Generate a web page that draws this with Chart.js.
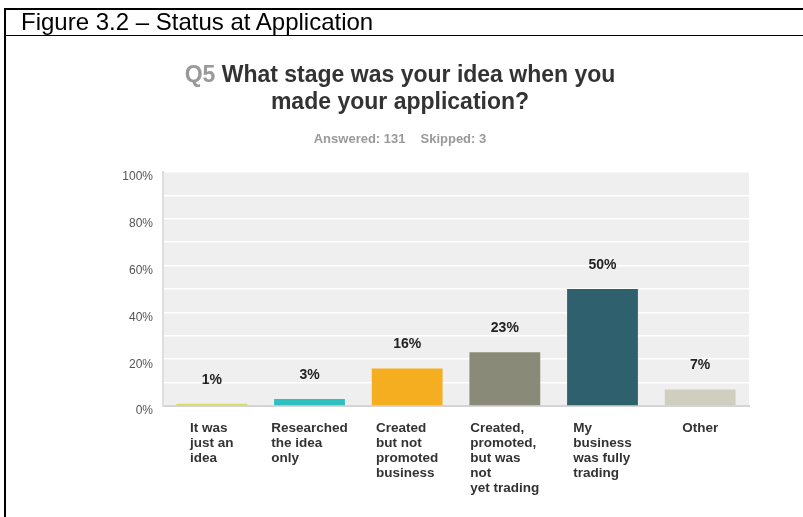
<!DOCTYPE html>
<html>
<head>
<meta charset="utf-8">
<script src="https://cdn.jsdelivr.net/npm/chart.js@4.4.1/dist/chart.umd.min.js"></script>
<style>
  html, body { margin: 0; padding: 0; background: #fff; }
  #page { position: relative; width: 803px; height: 517px; overflow: hidden; font-family: "Liberation Sans", Arial, sans-serif; }
  #chartBox { position: absolute; left: 0; top: 0; width: 803px; height: 517px; }
  .rule { position: absolute; background: #000; }
  #caption { position: absolute; left: 21px; top: 8px; font-size: 24px; line-height: 27px; color: #000; white-space: nowrap; }
  #question { position: absolute; left: 0; top: 61px; width: 800px; text-align: center; font-size: 23px; font-weight: bold; line-height: 27px; color: #333; }
  #question .qnum { color: #999; }
  #answered { position: absolute; left: 0; top: 131px; width: 800px; text-align: center; font-size: 13px; font-weight: bold; color: #999; }
  #answered span + span { margin-left: 15px; }
</style>
</head>
<body>
<div id="page">
  <div id="chartBox"><canvas id="myChart" width="803" height="517"></canvas></div>
  <div class="rule" style="left:4px; top:8px; width:799px; height:2px;"></div>
  <div class="rule" style="left:4px; top:8px; width:2px; height:509px;"></div>
  <div class="rule" style="left:4px; top:35px; width:799px; height:1px;"></div>
  <div id="caption">Figure 3.2 – Status at Application</div>
  <div id="question"><span class="qnum">Q5</span> What stage was your idea when you<br>made your application?</div>
  <div id="answered"><span>Answered: 131</span><span>Skipped: 3</span></div>
</div>
<script>
// answer options, one array of lines per bar
var categories = [
    ['It was', 'just an', 'idea'],
    ['Researched', 'the idea', 'only'],
    ['Created', 'but not', 'promoted', 'business'],
    ['Created,', 'promoted,', 'but was', 'not', 'yet trading'],
    ['My', 'business', 'was fully', 'trading'],
    ['Other']
];
var percentages = [1, 3, 16, 23, 50, 7];
var barColors = ['#d3da66', '#2ebfc1', '#f6ae21', '#8a8a78', '#2e606d', '#d0cfbf'];
var yTickLabels = ['0%', '20%', '40%', '60%', '80%', '100%'];

// grey plot background behind the grid
var plotBackground = {
    id: 'plotBackground',
    beforeDraw: function (chart) {
        var a = chart.chartArea;
        var c = chart.ctx;
        c.save();
        c.fillStyle = '#efefef';
        c.fillRect(a.left, a.top, a.right - a.left, a.bottom - a.top);
        c.restore();
    }
};

// percentage above each bar
var valueLabels = {
    id: 'valueLabels',
    afterDatasetsDraw: function (chart) {
        var c = chart.ctx;
        var meta = chart.getDatasetMeta(0);
        c.save();
        c.font = 'bold 14px "Liberation Sans", Arial, sans-serif';
        c.fillStyle = '#222';
        c.textAlign = 'center';
        c.textBaseline = 'middle';
        meta.data.forEach(function (bar, i) {
            c.fillText(percentages[i] + '%', bar.x, bar.y - 24);
        });
        c.restore();
    }
};

// category labels: left-aligned lines in a block centred on the bar
var categoryLabels = {
    id: 'categoryLabels',
    afterDraw: function (chart) {
        var c = chart.ctx;
        var xScale = chart.scales.x;
        c.save();
        c.font = 'bold 13.5px "Liberation Sans", Arial, sans-serif';
        c.fillStyle = '#333';
        c.textAlign = 'left';
        c.textBaseline = 'middle';
        categories.forEach(function (lines, i) {
            var cx = xScale.getPixelForValue(i);
            var w = Math.max.apply(null, lines.map(function (l) { return c.measureText(l).width; }));
            var left = cx - w / 2;
            lines.forEach(function (line, j) {
                c.fillText(line, left, xScale.top + 22 + j * 15);
            });
        });
        c.restore();
    }
};

var ctx = document.getElementById('myChart').getContext('2d');

var myChart = new Chart(ctx, {
    type: 'bar',
    data: {
        labels: categories,
        datasets: [{
            data: percentages,
            backgroundColor: barColors,
            borderWidth: 0,
            barPercentage: 0.725,
            categoryPercentage: 1
        }]
    },
    options: {
        responsive: false,
        animation: false,
        layout: {
            padding: { left: 122, right: 54, top: 172, bottom: 0 }
        },
        plugins: {
            legend: { display: false },
            tooltip: { enabled: false }
        },
        scales: {
            x: {
                grid: { display: false },
                border: { display: true, color: '#d4d4d4', width: 2 },
                ticks: { display: false },
                afterFit: function (scale) { scale.height = 111; }
            },
            y: {
                min: 0,
                max: 100,
                grid: { color: '#ffffff', lineWidth: 1.5, drawTicks: false },
                border: { display: true, color: '#dedede', width: 2 },
                ticks: {
                    stepSize: 10,
                    padding: 10,
                    labelOffset: 5,
                    color: '#555',
                    font: { family: '"Liberation Sans", Arial, sans-serif', size: 12 },
                    callback: function (value) {
                        return value % 20 === 0 ? yTickLabels[value / 20] : '';
                    }
                },
                afterFit: function (scale) { scale.width = 41; }
            }
        }
    },
    plugins: [plotBackground, valueLabels, categoryLabels]
});
</script>
</body>
</html>
